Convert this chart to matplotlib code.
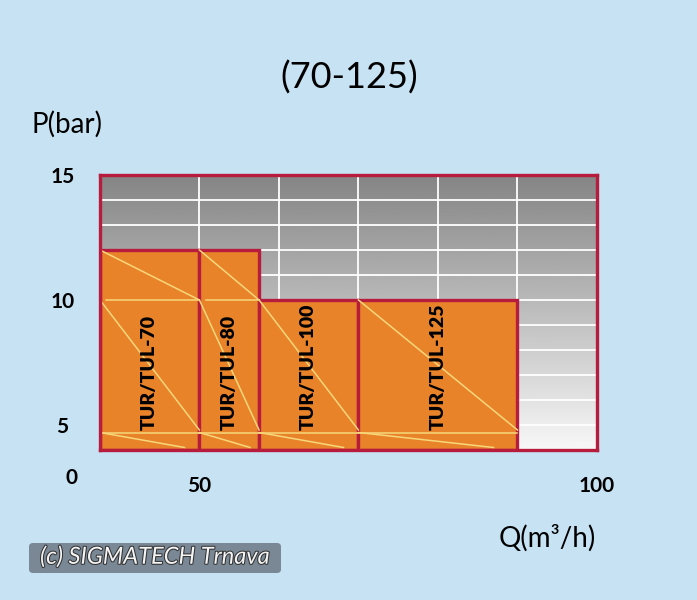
import numpy as np
import matplotlib
matplotlib.use("Agg")
from matplotlib import pyplot as plt
from matplotlib.patches import Rectangle, FancyBboxPatch
import matplotlib.patheffects as pe

# pump ranges: Q from / to (m3/h), max pressure (bar)
models = ["TUR/TUL-70", "TUR/TUL-80", "TUR/TUL-100", "TUR/TUL-125"]
q_from = [37.5, 50, 57.5, 70]
q_to = [50, 57.5, 70, 90]
p_max = [12, 12, 10, 10]
p_min = 4

x_ticks = [50, 100]
y_ticks = [5, 10, 15]

bg = '#c6e2f3'
red = '#b81c3c'
orange = '#e8832a'
yellow = '#f7d77a'

plt.rcParams['font.family'] = ['Lato', 'DejaVu Sans']

fig = plt.figure(figsize=(6.97, 6.0), dpi=100, facecolor=bg)
ax = fig.add_axes([100/697, 0.25, 497/697, 275/600])

# grey gradient background, dark at the top
grad = np.linspace(0.52, 0.97, 200).reshape(-1, 1)
ax.imshow(grad, extent=[37.5, 100, 4, 15], origin='upper', cmap='gray',
          vmin=0, vmax=1, aspect='auto', zorder=0)
ax.set_xlim(37.5, 100)
ax.set_ylim(4, 15)

# white grid
for y in range(5, 15):
    ax.axhline(y, color='white', lw=1.3, zorder=0.5)
for x in [50, 60, 70, 80, 90]:
    ax.axvline(x, color='white', lw=1.3, zorder=0.5)

for name, x0, x1, top in zip(models, q_from, q_to, p_max):
    ax.add_patch(Rectangle((x0, p_min), x1 - x0, top - p_min, facecolor=orange,
                           edgecolor=red, lw=2.4, zorder=2))
    # decorative yellow lines
    kw = dict(color=yellow, lw=1.1, zorder=2.2)
    if top > 10:
        ax.plot([x0, x1], [top, 10], **kw)
        ax.plot([x0 + 0.8, x1], [10, 10], **kw)
    ax.plot([x0, x1], [10, 4.8], **kw)
    ax.plot([x0, x1], [4.7, 4.7], **kw)
    ax.plot([x0, x1 - 0.3 * (x1 - x0) / 2], [4.7, 4.1], **kw)
    ax.text((x0 + x1) / 2, 4.78, name, rotation=90, ha='center', va='bottom',
            fontsize=14, fontweight='heavy', color='black', zorder=3)

for s in ax.spines.values():
    s.set_color(red)
    s.set_linewidth(2.4)
    s.set_zorder(4)

ax.set_xticks(x_ticks)
ax.set_xticks([60, 70, 80, 90], minor=True)
ax.set_yticks(y_ticks)
ax.set_yticks([6, 7, 8, 9, 11], minor=True)
ax.tick_params(axis='both', which='both', direction='in', color='#5a1420', width=1.3)
ax.tick_params(axis='y', which='major', length=14, pad=27, labelsize=15)
ax.tick_params(axis='y', which='minor', length=9)
ax.tick_params(axis='x', which='major', length=0, pad=19, labelsize=15)
ax.tick_params(axis='x', which='minor', length=8)
for lab in ax.get_yticklabels():
    lab.set_ha('center')
    lab.set_fontweight('bold')
for lab in ax.get_xticklabels():
    lab.set_fontweight('bold')

fig.text(71/697, 1 - 478/600, "0", ha='center', va='center', fontsize=15,
         fontweight='bold')
fig.text(349/697, 1 - 78/600, "(70-125)", ha='center', va='center', fontsize=26)
fig.text(31/697, 1 - 124/600, "P(bar)", ha='left', va='center', fontsize=20)
fig.text(547/697, 1 - 538/600, "Q(m³/h)", ha='center', va='center', fontsize=20)

# watermark
fig.patches.append(FancyBboxPatch((29/697, 1 - 573/600), 252/697, 30/600,
                                  boxstyle='round,pad=0,rounding_size=0.006',
                                  transform=fig.transFigure, facecolor='#7a8896',
                                  edgecolor='none'))
fig.text(155/697, 1 - 557/600, "(c) SIGMATECH Trnava", ha='center', va='center',
         fontsize=17, style='italic', color='#f4f4f4',
         path_effects=[pe.withStroke(linewidth=1.5, foreground='#333333')])

fig.savefig("out.png", dpi=100, facecolor=bg)
